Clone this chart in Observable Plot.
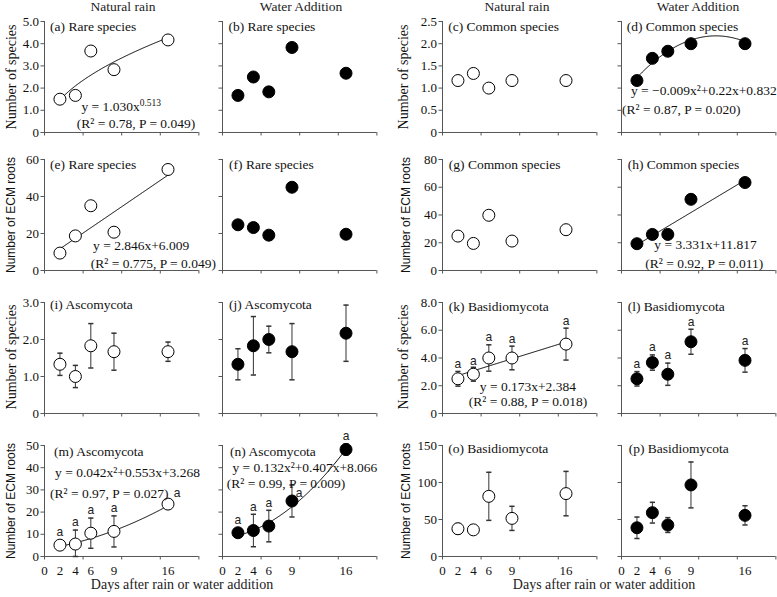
<!DOCTYPE html>
<html><head><meta charset="utf-8">
<script src="https://cdn.jsdelivr.net/npm/d3@7"></script>
<script src="https://cdn.jsdelivr.net/npm/@observablehq/plot@0.6"></script>
<style>
body{margin:0;background:#fff;}
#chart{position:relative;width:777px;height:597px;overflow:hidden;font-family:"Liberation Serif","Times New Roman",serif;color:#111;background:#fff;}
.abs{position:absolute;white-space:nowrap;line-height:1;}
.hdr{font-size:13.5px;transform:translate(-50%,-50%);color:#222;}
.ylab{transform:translate(-50%,-50%) rotate(-90deg);}
</style></head><body><div id="chart"></div>
<script>
// ---------------- data ----------------
const days = [2, 4, 6, 9, 16];
const xTickMarks = [0, 5, 10, 15, 20];
const xTickLabels = [0, 2, 4, 6, 9, 16];

const rareSpeciesNatural   = [1.5, 1.67, 3.67, 2.83, 4.17];   // (a)
const rareSpeciesWater     = [1.67, 2.5, 1.83, 3.83, 2.67];   // (b)
const commonSpeciesNatural = [1.17, 1.33, 1.0, 1.17, 1.17];   // (c)
const commonSpeciesWater   = [1.17, 1.67, 1.83, 2.0, 2.0];    // (d)
const rareRootsNatural     = [9.4, 18.7, 35.0, 20.7, 54.6];   // (e)
const rareRootsWater       = [24.7, 23.2, 19.1, 45.0, 19.6];  // (f)
const commonRootsNatural   = [24.8, 19.5, 39.8, 21.2, 29.4];  // (g)
const commonRootsWater     = [19.3, 26.0, 26.0, 51.3, 63.4];  // (h)
const ascoSpeciesNatural   = [1.33, 1.0, 1.83, 1.67, 1.67];   // (i)
const ascoSpeciesNaturalSE = [0.3, 0.3, 0.6, 0.5, 0.26];
const ascoSpeciesWater     = [1.33, 1.83, 2.0, 1.67, 2.17];   // (j)
const ascoSpeciesWaterSE   = [0.42, 0.79, 0.36, 0.76, 0.76];
const basidioSpeciesNatural   = [2.5, 2.83, 4.0, 4.0, 5.0];   // (k)
const basidioSpeciesNaturalSE = [0.53, 0.5, 0.95, 0.85, 1.15];
const basidioSpeciesWater     = [2.5, 3.67, 2.83, 5.17, 3.83]; // (l)
const basidioSpeciesWaterSE   = [0.52, 0.55, 0.8, 0.9, 0.85];
const ascoRootsNatural     = [5.1, 5.6, 10.5, 11.3, 23.6];    // (m)
const ascoRootsNaturalSE   = [0.8, 6.3, 6.8, 7.0, 2.2];
const ascoRootsWater       = [10.7, 11.7, 13.7, 25.0, 48.2];  // (n)
const ascoRootsWaterSE     = [0.8, 7.3, 7.1, 7.2, 2.5];
const basidioRootsNatural   = [37.5, 36.0, 81.3, 51.5, 85.0]; // (o)
const basidioRootsNaturalSE = [7, 6, 32.5, 16.3, 30];
const basidioRootsWater     = [38.8, 59.2, 42.5, 96.7, 55.6]; // (p)
const basidioRootsWaterSE   = [14.5, 14, 10, 31, 13];
const letters = ["a", "a", "a", "a", "a"];

// fitted model coefficients (as printed)
const fitA = [1.030, 0.513];          // power a*x^b
const fitD = [-0.009, 0.22, 0.832];   // quadratic
const fitE = [2.846, 6.009];          // linear
const fitH = [3.331, 11.817];
const fitK = [0.173, 2.384];
const fitM = [0.042, 0.553, 3.268];
const fitN = [0.132, 0.407, 8.066];

// y tick values per panel group
const ticksRareSpecies = [0, 1, 2, 3, 4, 5];
const ticksCommonSpecies = [0, 0.5, 1, 1.5, 2, 2.5];
const ticksRareRoots = [0, 20, 40, 60];
const ticksCommonRoots = [0, 20, 40, 60, 80];
const ticksAscoSpecies = [0, 1, 2, 3];
const ticksBasidioSpecies = [0, 2, 4, 6, 8];
const ticksAscoRoots = [0, 10, 20, 30, 40, 50];
const ticksBasidioRoots = [0, 50, 100, 150];

const headers = ["Natural rain", "Water Addition", "Natural rain", "Water Addition"];
const xTitle = "Days after rain or water addition";

// ---------------- layout ----------------
const SERIF = '"Liberation Serif","Times New Roman",serif';
const SANS = '"Liberation Sans",Arial,sans-serif';
const colLeft = [43.7, 221.7, 442, 620.5];
const rowTop = [21, 159, 301.7, 445];
const plotW = 154.4, plotH = 111;
const axisColor = "#555";
const barColor = "#333";

const power = c => x => c[0] * Math.pow(x, c[1]);
const quad = c => x => c[0] * x * x + c[1] * x + c[2];
const lin = c => x => c[0] * x + c[1];

const panels = [
  {col:0,row:0,title:"(a) Rare species",t:[49.3,26],v:rareSpeciesNatural,filled:false,ticks:ticksRareSpecies,dec:1,fit:power(fitA),
   eq:[["y = 1.030x^{0.513}",80.7,106],["(R² = 0.78, P = 0.049)",76,122.7]]},
  {col:1,row:0,title:"(b) Rare species",t:[227.7,26],v:rareSpeciesWater,filled:true,ticks:ticksRareSpecies,dec:1},
  {col:2,row:0,title:"(c) Common species",t:[447.7,26],v:commonSpeciesNatural,filled:false,ticks:ticksCommonSpecies,dec:1},
  {col:3,row:0,title:"(d) Common species",t:[625.7,26],v:commonSpeciesWater,filled:true,ticks:ticksCommonSpecies,dec:1,fit:quad(fitD),
   eq:[["y = −0.009x²+0.22x+0.832",630,90],["(R² = 0.87, P = 0.020)",621,109.3]]},
  {col:0,row:1,title:"(e) Rare species",t:[49.3,164.3],v:rareRootsNatural,filled:false,ticks:ticksRareRoots,dec:0,fit:lin(fitE),
   eq:[["y = 2.846x+6.009",92.3,245],["(R² = 0.775, P = 0.049)",90,263.3]]},
  {col:1,row:1,title:"(f) Rare species",t:[228.3,164],v:rareRootsWater,filled:true,ticks:ticksRareRoots,dec:0},
  {col:2,row:1,title:"(g) Common species",t:[448.3,164],v:commonRootsNatural,filled:false,ticks:ticksCommonRoots,dec:0},
  {col:3,row:1,title:"(h) Common species",t:[626.7,164],v:commonRootsWater,filled:true,ticks:ticksCommonRoots,dec:0,fit:lin(fitH),
   eq:[["y = 3.331x+11.817",653.3,244.3],["(R² = 0.92, P = 0.011)",644.3,262.7]]},
  {col:0,row:2,title:"(i) Ascomycota",t:[49.3,304.3],v:ascoSpeciesNatural,se:ascoSpeciesNaturalSE,filled:false,ticks:ticksAscoSpecies,dec:1},
  {col:1,row:2,title:"(j) Ascomycota",t:[228.3,304],v:ascoSpeciesWater,se:ascoSpeciesWaterSE,filled:true,ticks:ticksAscoSpecies,dec:1},
  {col:2,row:2,title:"(k) Basidiomycota",t:[448.3,306],v:basidioSpeciesNatural,se:basidioSpeciesNaturalSE,filled:false,ticks:ticksBasidioSpecies,dec:1,fit:lin(fitK),letters,
   eq:[["y = 0.173x+2.384",479.3,386],["(R² = 0.88, P = 0.018)",468.3,401]]},
  {col:3,row:2,title:"(l) Basidiomycota",t:[626.7,306],v:basidioSpeciesWater,se:basidioSpeciesWaterSE,filled:true,ticks:ticksBasidioSpecies,dec:1,letters},
  {col:0,row:3,title:"(m) Ascomycota",t:[53.3,450.7],v:ascoRootsNatural,se:ascoRootsNaturalSE,filled:false,ticks:ticksAscoRoots,dec:0,fit:quad(fitM),letters,shift:{4:[9,-6]},
   eq:[["y = 0.042x²+0.553x+3.268",54.3,471.7],["(R² = 0.97, P = 0.027)",49.3,493.3]]},
  {col:1,row:3,title:"(n) Ascomycota",t:[229.3,450.7],v:ascoRootsWater,se:ascoRootsWaterSE,filled:true,ticks:ticksAscoRoots,dec:0,fit:quad(fitN),letters,shift:{3:[7,8]},
   eq:[["y = 0.132x²+0.407x+8.066",231.7,467.3],["(R² = 0.99, P = 0.009)",226,483.3]]},
  {col:2,row:3,title:"(o) Basidiomycota",t:[447.7,448.3],v:basidioRootsNatural,se:basidioRootsNaturalSE,filled:false,ticks:ticksBasidioRoots,dec:0},
  {col:3,row:3,title:"(p) Basidiomycota",t:[627.7,448],v:basidioRootsWater,se:basidioRootsWaterSE,filled:true,ticks:ticksBasidioRoots,dec:0}
];

const capSymbol = {draw(ctx, size) { const w = Math.sqrt(size / Math.PI); ctx.moveTo(-w, 0); ctx.lineTo(w, 0); }};

function applySup(svg) {
  svg.querySelectorAll("text").forEach(t => {
    const s = t.textContent;
    if (!s.includes("^{")) return;
    t.textContent = "";
    const re = /\^\{([^}]*)\}/g; let last = 0, m, shifted = false;
    const add = (txt, sup) => {
      const ts = document.createElementNS("http://www.w3.org/2000/svg", "tspan");
      ts.textContent = txt;
      if (sup) { ts.setAttribute("dy", "-5"); ts.setAttribute("font-size", "9.5"); shifted = true; }
      else if (shifted) { ts.setAttribute("dy", "5"); shifted = false; }
      t.appendChild(ts);
    };
    while ((m = re.exec(s))) {
      if (m.index > last) add(s.slice(last, m.index), false);
      add(m[1], true);
      last = re.lastIndex;
    }
    if (last < s.length) add(s.slice(last), false);
  });
}

const chart = document.getElementById("chart");
const mL = 44, mR = 6, mT = 18, mB = 36;

for (const p of panels) {
  const left = colLeft[p.col], top = rowTop[p.row];
  const yMax = p.ticks[p.ticks.length - 1];
  const ppu = plotH / yMax;
  const data = days.map((x, i) => ({x, y: p.v[i], se: p.se ? p.se[i] : 0, letter: p.letters ? p.letters[i] : null, i}));
  const showY = p.col === 0 || p.col === 2;
  const fmt = d => d === 0 ? "0" : d.toFixed(p.dec);
  const marks = [
    Plot.ruleY([0], {stroke: axisColor}),
    Plot.ruleX([0], {stroke: axisColor}),
    Plot.axisY(p.ticks, {tickSize: 3.5, tickPadding: 2, tickFormat: showY ? fmt : () => "", stroke: axisColor, label: null, fontSize: 13}),
    Plot.axisX(xTickMarks, {tickSize: 3.5, tickFormat: () => "", stroke: axisColor, label: null})
  ];
  if (p.row === 3) marks.push(Plot.axisX(xTickLabels, {tickSize: 0, tickPadding: 9, label: null, fontSize: 13}));
  if (p.se) {
    const eb = data;
    marks.push(Plot.ruleX(eb, {x: "x", y1: d => Math.max(0, d.y - d.se), y2: d => d.y + d.se, stroke: barColor}));
    marks.push(Plot.dot(eb, {x: "x", y: d => d.y + d.se, symbol: capSymbol, r: 2.6, stroke: barColor, fill: "none"}));
    marks.push(Plot.dot(eb, {x: "x", y: d => Math.max(0, d.y - d.se), symbol: capSymbol, r: 2.6, stroke: barColor, fill: "none"}));
  }
  if (p.fit) {
    const pts = d3.range(2, 16.001, 0.1).map(x => ({x, y: p.fit(x)}));
    marks.push(Plot.line(pts, {x: "x", y: "y", stroke: "#000", strokeWidth: 1}));
  }
  marks.push(Plot.dot(data, {x: "x", y: "y", r: 6, fill: p.filled ? "#000" : "#fff", stroke: "#000", strokeWidth: 1}));
  if (p.letters) {
    const shift = p.shift || {};
    const normal = data.filter(d => !(d.i in shift));
    const low = normal.filter(d => d.se * ppu < 7);
    const high = normal.filter(d => d.se * ppu >= 7);
    const lt = {text: "letter", fontFamily: SANS, fontSize: 12, fill: "#222"};
    marks.push(Plot.text(low, {x: "x", y: "y", dy: -13, ...lt}));
    marks.push(Plot.text(high, {x: "x", y: d => d.y + d.se, dy: -7.5, ...lt}));
    for (const k of Object.keys(shift)) {
      const d = data[+k];
      marks.push(Plot.text([d], {x: "x", y: d => d.y + d.se, dx: shift[k][0], dy: shift[k][1], ...lt}));
    }
  }
  marks.push(Plot.text([p.title], {frameAnchor: "top-left", dx: p.t[0] - left, dy: p.t[1] - top, textAnchor: "start", lineAnchor: "middle", fontSize: 13.5, fill: "#111"}));
  if (p.eq) for (const [txt, ex, ey] of p.eq) {
    marks.push(Plot.text([txt], {frameAnchor: "top-left", dx: ex - left, dy: ey - top, textAnchor: "start", lineAnchor: "middle", fontSize: 13.5, fill: "#111"}));
  }
  const svg = Plot.plot({
    width: mL + plotW + mR, height: mT + plotH + mB,
    marginLeft: mL, marginRight: mR, marginTop: mT, marginBottom: mB,
    x: {domain: [0, 20], axis: null},
    y: {domain: [0, yMax], axis: null},
    style: {fontFamily: SERIF, fontSize: "13px", background: "none", overflow: "visible", position: "absolute", left: (left - mL) + "px", top: (top - mT) + "px", maxWidth: "none", color: "#111"},
    marks
  });
  applySup(svg);
  chart.appendChild(svg);
}

function addDiv(text, x, y, cls, css) {
  const d = document.createElement("div");
  d.className = "abs " + cls;
  d.textContent = text;
  d.style.left = x + "px"; d.style.top = y + "px";
  Object.assign(d.style, css || {});
  chart.appendChild(d);
}
const hdrX = [123, 301, 517, 698];
headers.forEach((h, i) => addDiv(h, hdrX[i], 6.5, "hdr"));
const rowMid = r => rowTop[r] + plotH / 2;
for (const [x, r] of [[12, 0], [404, 0], [12, 2], [404, 2]]) addDiv("Number of species", x, rowMid(r), "ylab", {fontSize: "14px", fontFamily: SERIF});
for (const [x, r] of [[11, 1], [406, 1], [11, 3], [406, 3]]) addDiv("Number of ECM roots", x, rowMid(r), "ylab", {fontSize: "12px", fontFamily: SANS});
addDiv(xTitle, 182, 585, "hdr", {fontSize: "14px"});
addDiv(xTitle, 604, 585, "hdr", {fontSize: "14px"});
</script></body></html>
